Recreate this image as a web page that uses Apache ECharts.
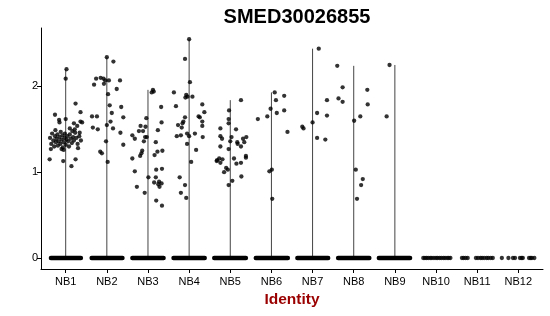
<!DOCTYPE html>
<html>
<head>
<meta charset="utf-8">
<script src="https://cdn.jsdelivr.net/npm/echarts@6/dist/echarts.min.js"></script>
<style>
html,body{margin:0;padding:0;background:#fff;}
#c{width:550px;height:316px;}
</style>
</head>
<body>
<div id="c"></div>
<script>
const title = 'SMED30026855';
const categories = ['NB1','NB2','NB3','NB4','NB5','NB6','NB7','NB8','NB9','NB10','NB11','NB12'];
const yTicks = [0, 1, 2];

// expressed cells per cluster: [jitter offset, expression]
const NB1 = [[0.02,2.20],[0,2.09],[0.24,1.80],[0.36,1.70],[-0.26,1.67],[-0.16,1.61],[-0.15,1.58],[0,1.62],[0.2,1.57],[0.36,1.59],[0.4,1.58],[0.28,1.54],[0.1,1.51],[0.22,1.50],[0.34,1.46],[0.37,1.37],[0.3,1.28],[-0.05,1.26],[-0.39,1.15],[-0.06,1.13],[0.24,1.15],[0.14,1.07],
  [-0.38,1.40],[-0.35,1.33],[-0.33,1.45],[-0.3,1.37],[-0.28,1.30],[-0.26,1.42],[-0.24,1.35],[-0.22,1.39],[-0.2,1.44],[-0.19,1.31],[-0.17,1.36],[-0.15,1.41],[-0.13,1.33],[-0.12,1.47],[-0.1,1.38],[-0.08,1.43],[-0.07,1.29],[-0.05,1.35],[-0.03,1.40],[-0.02,1.45],[0.0,1.32],[0.02,1.38],[0.04,1.42],[0.06,1.36],[0.08,1.30],[0.1,1.44],[0.12,1.39],[0.15,1.34],[0.18,1.41],[0.2,1.37],[0.23,1.46],[0.26,1.40],[0.29,1.33],[-0.36,1.27],[-0.1,1.27],[0.16,1.48],[-0.25,1.49],[0.33,1.42]];
const NB2 = [[0,2.34],[0.16,2.29],[-0.31,2.02],[-0.26,2.09],[-0.15,2.10],[-0.08,2.09],[-0.04,2.07],[0.05,2.07],[-0.07,2.03],[0.32,2.07],[0.24,1.97],[0.03,1.91],[-0.36,1.65],[-0.24,1.65],[0.07,1.78],[0.35,1.76],[0.4,1.64],[0.09,1.59],[0.12,1.69],[0,1.55],[-0.34,1.52],[-0.22,1.50],[0.15,1.51],[0.33,1.46],[0.4,1.32],[-0.02,1.36],[-0.16,1.24],[-0.12,1.22],[0.02,1.12]];
const NB3 = [[0.12,1.96],[0.09,1.93],[0.14,1.94],[0.32,1.76],[-0.04,1.63],[0.33,1.58],[-0.18,1.54],[-0.06,1.53],[-0.22,1.48],[-0.12,1.48],[0.24,1.49],[-0.38,1.43],[-0.32,1.39],[-0.03,1.41],[-0.07,1.41],[0.19,1.35],[-0.1,1.36],[-0.14,1.25],[-0.16,1.22],[-0.19,1.19],[0.23,1.24],[0.35,1.25],[0.16,1.20],[-0.38,1.16],[-0.32,1.01],[0.2,1.03],[0.34,1.04],[0.01,0.94],[0.19,0.94],[0.15,0.88],[0.27,0.89],[0.33,0.87],[0.25,0.86],[0.28,0.83],[-0.27,0.83],[-0.08,0.76],[0.2,0.67],[0.34,0.61]];
const NB4 = [[0,2.55],[-0.1,2.32],[0.02,2.05],[-0.37,1.93],[-0.07,1.90],[-0.04,1.88],[-0.09,1.87],[0.08,1.88],[-0.32,1.77],[0.32,1.79],[0.37,1.70],[0.23,1.65],[0.26,1.64],[0.32,1.59],[0.32,1.54],[-0.1,1.64],[-0.14,1.59],[-0.16,1.57],[-0.27,1.55],[-0.18,1.52],[-0.05,1.45],[0.14,1.45],[-0.3,1.42],[-0.2,1.43],[0,1.42],[0.33,1.41],[-0.05,1.33],[0.17,1.26],[0.05,1.12],[-0.23,0.94],[-0.1,0.85],[-0.2,0.76],[-0.07,0.70]];
const NB5 = [[0.26,1.84],[-0.03,1.72],[-0.04,1.62],[-0.04,1.57],[-0.24,1.51],[0.14,1.50],[-0.24,1.42],[-0.2,1.39],[0.03,1.41],[0,1.36],[0.17,1.35],[0.18,1.33],[0.34,1.35],[0.39,1.41],[0.31,1.39],[-0.24,1.30],[0.26,1.30],[-0.04,1.27],[-0.32,1.14],[-0.27,1.16],[-0.19,1.15],[-0.33,1.13],[-0.24,1.11],[0.09,1.16],[0.38,1.19],[0.38,1.17],[0.15,1.10],[0.26,1.11],[-0.1,1.05],[-0.06,1.03],[-0.15,1.00],[0.27,0.95],[0.05,0.90],[-0.04,0.85]];
const NB6 = [[0.08,1.93],[0.31,1.89],[0.11,1.84],[-0.02,1.74],[0.31,1.72],[0.13,1.69],[-0.1,1.65],[-0.33,1.62],[0.39,1.47],[0.01,1.03],[-0.05,1.01],[0.02,0.69]];
const NB7 = [[0.15,2.44],[0.35,1.84],[0.11,1.69],[0.35,1.66],[0,1.58],[-0.25,1.53],[-0.22,1.51],[0.11,1.40],[0.31,1.38]];
const NB8 = [[-0.4,2.24],[-0.27,1.99],[-0.37,1.86],[-0.27,1.82],[0.33,1.96],[0.34,1.79],[0.16,1.65],[0.01,1.60],[0.05,1.03],[0.22,0.92],[0.18,0.85],[0.08,0.69]];
const NB9 = [[-0.13,2.25],[-0.2,1.65]];
const NB10 = [];
const NB11 = [];
const NB12 = [];
const expressed = [NB1,NB2,NB3,NB4,NB5,NB6,NB7,NB8,NB9,NB10,NB11,NB12];

// zero-expression cells: dense band extents (jitter offsets) for NB1..NB9
const zeroBandLo = [-0.36,-0.37,-0.38,-0.38,-0.39,-0.38,-0.37,-0.38,-0.39];
const zeroBandHi = [0.37,0.38,0.38,0.38,0.38,0.40,0.38,0.38,0.37];
// sparse zero cells (jitter offsets) for NB10..NB12
const zeroNB10 = [-0.31,-0.27,-0.23,-0.19,-0.14,-0.1,-0.05,0.0,0.04,0.09,0.13,0.18,0.22,0.27,0.31,0.35];
const zeroNB11 = [-0.37,-0.33,-0.28,-0.23,-0.03,0.02,0.08,0.12,0.17,0.23,0.27,0.33,0.38];
const zeroNB12 = [-0.40,-0.24,-0.13,-0.08,0.04,0.08,0.11,0.26,0.3,0.33,0.39];
const zeroSparse = {9: zeroNB10, 10: zeroNB11, 11: zeroNB12};

const pointData = [];
expressed.forEach((arr, i) => arr.forEach(p => pointData.push([i + p[0], p[1]])));
Object.keys(zeroSparse).forEach(k => zeroSparse[k].forEach(o => pointData.push([Number(k) + o, 0])));

const violinData = [];
expressed.forEach((arr, i) => {
  if (arr.length) violinData.push([i, Math.max(...arr.map(p => p[1]))]);
});
const bandData = zeroBandLo.map((lo, i) => [i, lo, zeroBandHi[i]]);

const FONT = 'Liberation Sans, Arial, Helvetica, sans-serif';
const chart = echarts.init(document.getElementById('c'), null, {renderer: 'canvas'});
chart.setOption({
  animation: false,
  backgroundColor: '#fff',
  title: {
    text: title, left: 292, top: 1, textAlign: 'center',
    textStyle: {fontFamily: FONT, fontSize: 20, fontWeight: 'bold', color: '#000', lineHeight: 22}
  },
  grid: {left: 41, right: 7, top: 28, bottom: 47, containLabel: false, outerBoundsMode: 'none'},
  xAxis: {
    type: 'value', min: -0.6, max: categories.length - 0.4,
    axisLine: {show: true, onZero: false, lineStyle: {color: '#000', width: 1}},
    axisTick: {show: true, length: 4, lineStyle: {color: '#000'}, customValues: categories.map((c, i) => i)},
    axisLabel: {customValues: categories.map((c, i) => i), formatter: v => categories[Math.round(v)],
      fontFamily: FONT, fontSize: 11, color: '#000', margin: 7},
    splitLine: {show: false},
    name: 'Identity', nameLocation: 'middle', nameGap: 22,
    nameTextStyle: {fontFamily: FONT, fontSize: 15.5, fontWeight: 'bold', color: '#9B0000'}
  },
  yAxis: {
    type: 'value', min: -0.128, max: 2.681,
    axisLine: {show: true, onZero: false, lineStyle: {color: '#000', width: 1}},
    axisTick: {show: true, length: 4, lineStyle: {color: '#000'}, customValues: yTicks},
    axisLabel: {customValues: yTicks, fontFamily: FONT, fontSize: 11, color: '#000', margin: 3},
    splitLine: {show: false}
  },
  series: [
    {
      type: 'custom', data: violinData, z: 1,
      renderItem: (params, api) => {
        const a = api.coord([api.value(0), 0]);
        const b = api.coord([api.value(0), api.value(1)]);
        return {type: 'line', shape: {x1: a[0], y1: a[1], x2: b[0], y2: b[1]},
          style: {stroke: '#444', lineWidth: 1}};
      }
    },
    {
      type: 'custom', data: bandData, z: 2,
      renderItem: (params, api) => {
        const i = api.value(0);
        const a = api.coord([i + api.value(1), 0]);
        const b = api.coord([i + api.value(2), 0]);
        return {type: 'line', shape: {x1: a[0], y1: a[1], x2: b[0], y2: b[1]},
          style: {stroke: '#000', lineWidth: 4.4, lineCap: 'round'}};
      }
    },
    {
      type: 'scatter', data: pointData, z: 3,
      symbol: 'circle', symbolSize: 4.3,
      itemStyle: {color: '#000'}
    }
  ]
});
</script>
</body>
</html>
